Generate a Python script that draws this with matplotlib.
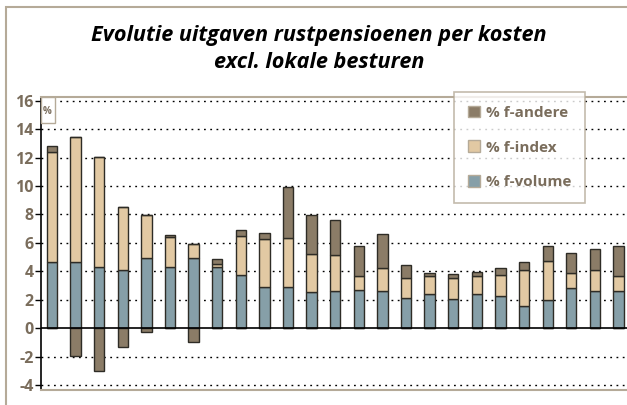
import numpy as np
import matplotlib
matplotlib.use("Agg")
import matplotlib.pyplot as plt
from matplotlib.patches import Rectangle, Patch

# values (in %)
f_volume = [4.64, 4.64, 4.29, 4.12, 4.92, 4.29, 4.92, 4.29, 3.77, 2.88, 2.88, 2.53, 2.63,
            2.72, 2.63, 2.11, 2.42, 2.04, 2.42, 2.25, 1.55, 2.02, 2.82, 2.63, 2.63]
f_index = [7.73, 8.78, 7.73, 4.38, 3.07, 2.10, 1.03, 0.23, 2.72, 3.42, 3.49, 2.69, 2.49,
           0.92, 1.64, 1.39, 1.24, 1.46, 1.24, 1.48, 2.53, 2.70, 1.10, 1.45, 1.03]
f_andere = [0.45, -1.92, -3.0, -1.31, -0.26, 0.19, -0.96, 0.33, 0.40, 0.38, 3.56, 2.73, 2.46,
            2.11, 2.35, 0.94, 0.24, 0.30, 0.28, 0.50, 0.57, 1.03, 1.36, 1.46, 2.09]
labels = ["% f-andere", "% f-index", "% f-volume"]
yticks = [-4, -2, 0, 2, 4, 6, 8, 10, 12, 14, 16]

c_vol = "#869fa8"
c_idx = "#e2c9a3"
c_and = "#8b7c67"
tan = "#b5aa98"
txt = "#7a6d5c"
edge = "#2e2c26"

plt.rcParams['font.family'] = ['Open Sans', 'DejaVu Sans']

fig = plt.figure(figsize=(6.27, 4.05), dpi=100)
ax = fig.add_axes([40.5 / 627, 15 / 405, 1 - 40.5 / 627, (390 - 96.7) / 405])

x = np.arange(len(f_volume))
vol = np.array(f_volume)
idx = np.array(f_index)
oth = np.array(f_andere)
w = 0.44

ax.bar(x, vol, w, color=c_vol, edgecolor=edge, linewidth=1, zorder=3)
ax.bar(x, idx, w, bottom=vol, color=c_idx, edgecolor=edge, linewidth=1, zorder=3)
pos = np.where(oth > 0, oth, 0)
neg = np.where(oth < 0, oth, 0)
ax.bar(x, pos, w, bottom=vol + idx, color=c_and, edgecolor=edge, linewidth=1, zorder=3)
ax.bar(x, neg, w, color=c_and, edgecolor=edge, linewidth=1, zorder=3)

ax.set_xlim(-0.49, 24.36)
ax.set_ylim(-4.34, 16.28)
ax.set_yticks(yticks)
ax.set_yticklabels([str(t) for t in yticks], fontsize=11.5, fontweight="bold", color=txt)
ax.set_xticks([])
ax.tick_params(axis="y", length=4, width=1, color="black", pad=1)

for t in yticks:
    if t != 0:
        ax.axhline(t, color="black", linewidth=1, linestyle=(0, (1.3, 3.2)), zorder=1)
ax.axhline(0, color="black", linewidth=1.2, zorder=4)

ax.spines["right"].set_visible(False)
ax.spines["left"].set_color("black")
ax.spines["left"].set_linewidth(1.2)
ax.spines["top"].set_color(tan)
ax.spines["top"].set_linewidth(1.5)
ax.spines["bottom"].set_color(tan)
ax.spines["bottom"].set_linewidth(1.5)

# outer frame of the whole chart
fig.patches.append(Rectangle((6 / 627, -0.05), 1.2, 1 - 7 / 405 + 0.05, transform=fig.transFigure,
                             fill=False, edgecolor=tan, linewidth=1.5))

# small "%" unit box
fig.patches.append(Rectangle((40.5 / 627, 1 - 123 / 405), 14 / 627, 26 / 405, transform=fig.transFigure,
                             facecolor="white", edgecolor=tan, linewidth=1, zorder=5))
fig.text(47.5 / 627, 1 - 112 / 405, "%", fontsize=7, fontweight="bold", color=txt,
         ha="center", va="center", zorder=6)

fig.text(0.509, 1 - 35 / 405, "Evolutie uitgaven rustpensioenen per kosten", fontsize=15.6,
         fontweight="bold", fontstyle="italic", ha="center", va="center")
fig.text(0.509, 1 - 62 / 405, "excl. lokale besturen", fontsize=15.6,
         fontweight="bold", fontstyle="italic", ha="center", va="center")

handles = [Patch(facecolor=c_and, edgecolor=tan), Patch(facecolor=c_idx, edgecolor=tan),
           Patch(facecolor=c_vol, edgecolor=tan)]
leg = fig.legend(handles, labels, loc="upper left", bbox_to_anchor=(454 / 627, 1 - 92 / 405),
                 fontsize=11, frameon=True, fancybox=False, handlelength=0.8, handleheight=0.8,
                 handletextpad=0.4, labelspacing=1.34, borderpad=0.9, borderaxespad=0)
leg.get_frame().set_edgecolor(tan)
leg.get_frame().set_linewidth(1.2)
for t in leg.get_texts():
    t.set_color(txt)
    t.set_fontweight("bold")

fig.savefig("out.png", dpi=100)
